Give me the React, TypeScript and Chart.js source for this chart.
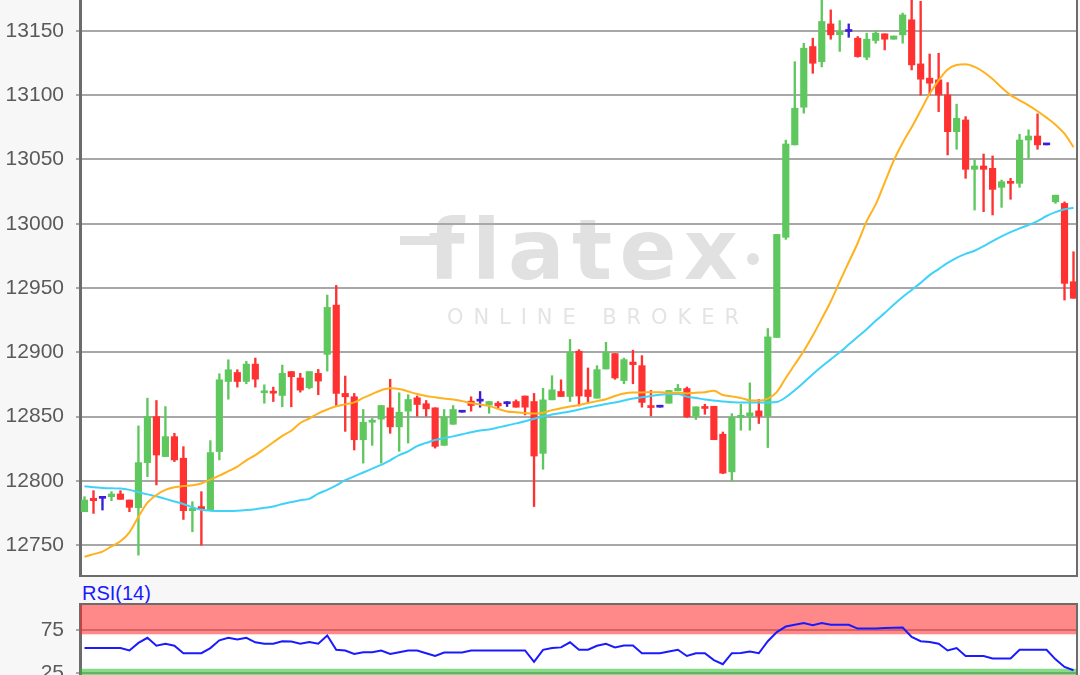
import React, { useEffect, useRef } from 'react';
import { Chart, registerables } from 'chart.js';

Chart.register(...registerables);

// ---- Data ----
const opens = [
  12776, 12786.4, 12786.4, 12787.7, 12789.8, 12785.1, 12779.1, 12814.2, 12850, 12818.9,
  12834.4, 12817.6, 12776.8, 12780, 12777.3, 12822.8, 12877.3, 12884.3, 12877.3, 12890.8,
  12868.5, 12869.5, 12866.4, 12885, 12880, 12872.4, 12883.6, 12898.4, 12936.7, 12868,
  12865.4, 12832, 12845.6, 12848, 12856.8, 12842, 12854.2, 12864.6, 12860, 12856.8,
  12827.6, 12844, 12853.4, 12862, 12862, 12859, 12860.4, 12860, 12861.7, 12866,
  12861.7, 12821.4, 12863, 12869.5, 12865.6, 12900.8, 12870.8, 12864.3, 12887, 12899,
  12878, 12892.4, 12889.6, 12858, 12857.3, 12860.4, 12870, 12871.8, 12850.3, 12857.6,
  12858, 12836.3, 12807, 12849.3, 12850.3, 12854.4, 12850.3, 12911.5, 12989.4, 13061.3,
  13090.6, 13137.8, 13126, 13155.4, 13147, 13149.5, 13144.3, 13129.5, 13142.5, 13147.7,
  13143.5, 13146.9, 13158.6, 13124.3, 13113.2, 13111.9, 13100.2, 13071.6, 13080.7, 13042.3,
  13044.9, 13043.1, 13028.3, 13032.7, 13031.4, 13065.1, 13068.2, 13061.3, 13017, 13015.8,
  12954.9,
];
const highs = [
  12787.7, 12792.4, 12787.7, 12791.6, 12792.4, 12785.1, 12842.7, 12864.3, 12862.5, 12857.8,
  12837, 12826.6, 12783.8, 12791.6, 12831.3, 12883.3, 12894.2, 12886.4, 12892.9, 12895.5,
  12874.7, 12872.9, 12890, 12885, 12883.6, 12885, 12886.7, 12944.5, 12952, 12881.5,
  12868, 12855.5, 12848.5, 12858.6, 12879, 12868.5, 12867, 12866, 12862.5, 12856.8,
  12855.5, 12858.6, 12853.4, 12865.4, 12869.5, 12861.7, 12861.7, 12861.7, 12863, 12866,
  12868, 12872, 12881.8, 12878.6, 12910, 12902, 12887.8, 12889.6, 12907.8, 12899,
  12895.5, 12901.6, 12897.4, 12870.3, 12857.3, 12870.3, 12875, 12873, 12857.6, 12859.6,
  12858, 12838, 12852.3, 12859.6, 12876.2, 12863.3, 12918.5, 12991.7, 13065, 13126,
  13140.4, 13144.3, 13185, 13166.3, 13158, 13155.4, 13145.6, 13148.2, 13150, 13147.7,
  13146, 13163.8, 13180, 13173, 13132, 13132.6, 13109.8, 13093, 13083.3, 13049.6,
  13054.2, 13052.7, 13034, 13035.3, 13069.6, 13073, 13085.4, 13061.3, 13022.2, 13017,
  12978.2,
];
const lows = [
  12776, 12774.7, 12777.3, 12784.6, 12785.6, 12776, 12742.2, 12803.3, 12796.8, 12818.9,
  12815, 12770, 12760.4, 12750, 12777.3, 12816.3, 12863.5, 12872.9, 12875.5, 12872.9,
  12860.4, 12861.7, 12857.6, 12857.6, 12869, 12871.6, 12867, 12885.4, 12858.6, 12838.5,
  12824, 12813.8, 12827.6, 12813.8, 12837, 12823, 12829.4, 12850.3, 12850.3, 12825.5,
  12827.6, 12844, 12853.4, 12854.2, 12857.3, 12852.6, 12856.8, 12857.8, 12857.3, 12851.3,
  12780, 12809, 12863, 12865.6, 12861.7, 12858.3, 12860.4, 12864.3, 12887, 12879,
  12875.5, 12875.5, 12857.3, 12850.5, 12857.3, 12860.4, 12870, 12849.3, 12847.7, 12851.8,
  12832, 12805.6, 12799.9, 12839.4, 12839.4, 12844.6, 12825.9, 12911.5, 12987.8, 13061.3,
  13086, 13117, 13122, 13143.5, 13134, 13145, 13129.5, 13127.5, 13140.4, 13135.2,
  13143.5, 13140.4, 13119.6, 13100, 13100, 13087.2, 13053.5, 13057.9, 13035.3, 13010.6,
  13009.4, 13006.8, 13012.7, 13019, 13028.3, 13050.9, 13057.9, 13061.3, 13015.8, 12940.6,
  12942,
];
const closes = [
  12785.1, 12784.6, 12786.4, 12789.8, 12785.6, 12779.4, 12814.2, 12850, 12820.1, 12834.4,
  12816.3, 12776.8, 12778.6, 12778, 12822, 12878.6, 12886.4, 12877.3, 12890.8, 12879.1,
  12869.2, 12868.2, 12883.6, 12881, 12870.6, 12885, 12877.6, 12934.9, 12868, 12865.4,
  12832, 12845.6, 12847.2, 12858.6, 12842, 12853.4, 12863.3, 12859.4, 12856, 12826.8,
  12849.5, 12855.5, 12853.4, 12858.6, 12862, 12861.7, 12858.3, 12860, 12857.3, 12857.3,
  12819.3, 12863, 12870.8, 12865.6, 12900, 12866, 12865.6, 12886.5, 12900, 12880,
  12894.3, 12890.4, 12861, 12857, 12857.3, 12870.3, 12872, 12849.8, 12857.6, 12856.3,
  12832, 12806, 12849.3, 12851, 12852.9, 12850.3, 12912, 12991.7, 13062, 13089.8,
  13136.5, 13124.8, 13157.3, 13146.9, 13149.5, 13149.5, 13130, 13143.5, 13148.2, 13143.5,
  13146, 13162.4, 13123.5, 13112.4, 13109.3, 13100.2, 13071.6, 13082, 13042.3, 13044.9,
  13042.3, 13026.7, 13032.7, 13031.4, 13065.1, 13068.2, 13061.3, 13061.3, 13022.2, 12953.6,
  12942,
];
const maFast = [
  12741, 12743, 12745, 12749, 12753, 12760, 12772, 12783, 12789, 12793,
  12795, 12796, 12796.5, 12798, 12801, 12804, 12807.5, 12811, 12816, 12820,
  12825, 12830, 12835, 12839, 12845, 12848.5, 12852.5, 12855.5, 12858, 12859.5,
  12861, 12864.5, 12867.5, 12870.5, 12872, 12871.5, 12869.5, 12867.5, 12866, 12865,
  12864, 12863.3, 12862, 12860.5, 12859.4, 12858.3, 12856, 12854, 12853.3, 12852.7,
  12852.3, 12853, 12855, 12856.5, 12857.8, 12859, 12860.5, 12862, 12863.5, 12866,
  12868, 12868.8, 12868.8, 12869, 12869, 12868.5, 12868.5, 12868, 12868.5, 12869,
  12870, 12866.8, 12865.7, 12864.5, 12862.7, 12862.5, 12864, 12869, 12880, 12890.5,
  12901, 12913, 12926, 12939.5, 12955, 12970, 12985, 13002, 13015, 13032,
  13049, 13063, 13075, 13088, 13101, 13111.5, 13120, 13123.5, 13124, 13122,
  13118, 13112.5, 13106, 13100, 13096, 13092, 13087.5, 13082.5, 13077, 13070,
  13059.5,
];
const maSlow = [
  12795.8, 12795, 12794.5, 12794.2, 12794, 12793, 12791.2, 12789.5, 12788, 12786,
  12784, 12782, 12779.5, 12777.5, 12776.8, 12776.6, 12776.6, 12776.8, 12777.3, 12778,
  12779, 12780, 12782, 12783.5, 12785, 12786, 12790, 12793, 12796.5, 12800.5,
  12803.5, 12806.5, 12809.5, 12812.5, 12816, 12820, 12823, 12827, 12829.5, 12831.8,
  12833.2, 12834.6, 12836.2, 12837.8, 12839.2, 12840, 12841.5, 12843, 12844.7, 12846.4,
  12848.3, 12850, 12851.6, 12852.8, 12854, 12855.5, 12857, 12858.4, 12859.8, 12861,
  12862.5, 12864, 12865, 12866, 12867, 12867.5, 12867.5, 12865.5, 12864.5, 12863.3,
  12862.5, 12861.7, 12861.2, 12860.9, 12860.9, 12860.9, 12861, 12861.4, 12865, 12870.5,
  12876.5, 12883, 12889, 12894.5, 12900, 12906, 12912, 12918, 12924.5, 12930.5,
  12937, 12943, 12948.5, 12954, 12960, 12964.7, 12969.5, 12973.5, 12976.5, 12979,
  12982.5, 12986.5, 12990.2, 12993.5, 12996.4, 12999, 13002, 13006, 13009, 13011.2,
  13012.5,
];
const rsi = [
  54, 54, 54, 54, 54, 51.2, 60, 65.9, 56.7, 59,
  56.7, 48, 48, 48, 54, 63, 65.9, 63.9, 65.9, 60.7,
  59, 59, 62, 61.5, 59, 61, 59, 68.6, 52, 51.2,
  47.2, 49.2, 49.2, 51.2, 47.2, 49.2, 51.2, 51.2, 48, 44.8,
  48.8, 48.8, 48.8, 51.2, 51.2, 51.2, 51.2, 51.2, 51.2, 51.2,
  38, 52, 54, 54.8, 60.7, 52, 52, 56.7, 59, 54.8,
  57, 57, 48, 48, 48, 50, 52, 44.8, 48, 48,
  40, 35.3, 48, 48.4, 50, 48, 61.9, 72.6, 79, 81,
  83, 80.6, 83, 81, 81, 81, 76.6, 76.6, 76.8, 77.2,
  77.5, 77.8, 67, 61.9, 61, 59, 51.2, 54, 44.8, 44.8,
  44.8, 42, 42, 42, 52, 52, 52, 52, 40.9, 32.1,
  28.2,
];
const categories = opens.map((_, i) => `#${i + 1}`);
const priceTicks = [12750, 12800, 12850, 12900, 12950, 13000, 13050, 13100, 13150];
const rsiGridTicks = [25, 50, 75, 100];
const rsiLabelTicks = [25, 75];
const overboughtLevel = 70;
const oversoldLevel = 30;

// ---- Styles ----
const GREEN = '#5ec85e';
const RED = '#ff3131';
const DOJI = '#3b1fd6';
const FONT = '"Liberation Sans", Arial, sans-serif';
const GRID = '#a8a8a8';
const FRAME = '#6c6c6c';

const candleColors = closes.map((c, i) => (c > opens[i] ? GREEN : c < opens[i] ? RED : DOJI));

function drawSpaced(ctx: CanvasRenderingContext2D, text: string, x0: number, x1: number, y: number) {
  const chars = Array.from(text);
  const widths = chars.map((c) => ctx.measureText(c).width);
  const total = widths.reduce((a, b) => a + b, 0);
  const gap = (x1 - x0 - total) / (chars.length - 1);
  let x = x0;
  chars.forEach((c, i) => {
    ctx.fillText(c, x, y);
    x += widths[i] + gap;
  });
}

const whiteAreaPlugin = {
  id: 'whiteArea',
  beforeDraw(chart: any) {
    const { ctx, chartArea } = chart;
    ctx.save();
    ctx.fillStyle = '#ffffff';
    ctx.fillRect(chartArea.left, chartArea.top, chartArea.right - chartArea.left, chartArea.bottom - chartArea.top);
    ctx.restore();
  },
};

const watermarkPlugin = {
  id: 'watermark',
  beforeDraw(chart: any) {
    const { ctx } = chart;
    ctx.save();
    ctx.fillStyle = '#e1e1e1';
    ctx.fillRect(400, 236, 44, 9);
    ctx.font = 'bold 84px "DejaVu Sans", sans-serif';
    ctx.textBaseline = 'alphabetic';
    ctx.textAlign = 'left';
    drawSpaced(ctx, 'flatex', 428, 738, 279);
    ctx.beginPath();
    ctx.arc(753, 259, 6, 0, Math.PI * 2);
    ctx.fill();
    ctx.fillStyle = '#e4e4e4';
    ctx.font = '21px "DejaVu Sans", sans-serif';
    drawSpaced(ctx, 'ONLINE BROKER', 447, 739, 324);
    ctx.restore();
  },
};

const makeFramePlugin = (sides: string[]) => ({
  id: 'frame',
  afterDatasetsDraw(chart: any) {
    const { ctx, chartArea } = chart;
    ctx.save();
    ctx.strokeStyle = FRAME;
    ctx.lineWidth = 2;
    ctx.beginPath();
    if (sides.includes('bottom')) {
      ctx.moveTo(chartArea.left, chartArea.bottom);
      ctx.lineTo(chartArea.right, chartArea.bottom);
    }
    if (sides.includes('top')) {
      ctx.moveTo(chartArea.left, chartArea.top);
      ctx.lineTo(chartArea.right, chartArea.top);
    }
    if (sides.includes('right')) {
      ctx.moveTo(chartArea.right - 1, chartArea.top);
      ctx.lineTo(chartArea.right - 1, chartArea.bottom);
    }
    ctx.stroke();
    ctx.restore();
  },
});

const bandsPlugin = {
  id: 'bands',
  beforeDatasetsDraw(chart: any) {
    const { ctx, chartArea } = chart;
    const y = chart.scales.y;
    const yTop = y.getPixelForValue(overboughtLevel);
    const yLow = y.getPixelForValue(oversoldLevel);
    ctx.save();
    ctx.fillStyle = 'rgba(255,40,40,0.55)';
    ctx.fillRect(chartArea.left, chartArea.top, chartArea.right - chartArea.left, yTop - chartArea.top);
    ctx.fillStyle = 'rgba(40,190,40,0.55)';
    ctx.fillRect(chartArea.left, yLow, chartArea.right - chartArea.left, chartArea.bottom - yLow);
    ctx.restore();
  },
};

const yAxisCommon = {
  position: 'left' as const,
  afterFit: (s: any) => {
    s.width = 80;
    s.paddingTop = 0;
    s.paddingBottom = 0;
  },
  ticks: {
    color: '#5a5a5a',
    font: { family: FONT, size: 21 },
    padding: 12,
    callback: (v: any) => String(v),
  },
  grid: { color: GRID, lineWidth: 2, tickLength: 4 },
  border: { color: FRAME, width: 3 },
};

export default function App() {
  const mainRef = useRef<HTMLCanvasElement>(null);
  const rsiRef = useRef<HTMLCanvasElement>(null);

  useEffect(() => {
    document.body.style.margin = '0';
    const main = new Chart(mainRef.current as HTMLCanvasElement, {
      type: 'bar',
      data: {
        labels: categories,
        datasets: [
          {
            type: 'line',
            label: 'MA fast',
            data: maFast,
            borderColor: '#ffb21e',
            borderWidth: 2,
            pointRadius: 0,
            cubicInterpolationMode: 'monotone',
            order: 0,
          } as any,
          {
            type: 'line',
            label: 'MA slow',
            data: maSlow,
            borderColor: '#3fd2f8',
            borderWidth: 2,
            pointRadius: 0,
            cubicInterpolationMode: 'monotone',
            order: 0,
          } as any,
          {
            type: 'bar',
            label: 'Body',
            data: opens.map((o, i) => [o, closes[i]]),
            backgroundColor: candleColors,
            barThickness: 6.5,
            minBarLength: 2,
            grouped: false,
            order: 1,
          } as any,
          {
            type: 'bar',
            label: 'Wick',
            data: lows.map((l, i) => [l, highs[i]]),
            backgroundColor: candleColors,
            barThickness: 1.7,
            grouped: false,
            order: 2,
          } as any,
        ],
      },
      options: {
        animation: false,
        responsive: false,
        maintainAspectRatio: false,
        layout: { padding: { left: 0, right: 2, top: 0, bottom: 2 } },
        plugins: { legend: { display: false }, tooltip: { enabled: false } },
        scales: {
          x: { display: false, offset: true },
          y: {
            ...yAxisCommon,
            min: 12726,
            max: 13174,
            afterBuildTicks: (s: any) => {
              s.ticks = priceTicks.map((v) => ({ value: v }));
            },
          } as any,
        },
      },
      plugins: [whiteAreaPlugin, watermarkPlugin, makeFramePlugin(['bottom', 'right'])],
    });

    const rsiChart = new Chart(rsiRef.current as HTMLCanvasElement, {
      type: 'line',
      data: {
        labels: categories,
        datasets: [
          {
            label: 'RSI(14)',
            data: rsi,
            borderColor: '#1a1aff',
            borderWidth: 2,
            pointRadius: 0,
            tension: 0,
          },
        ],
      },
      options: {
        animation: false,
        responsive: false,
        maintainAspectRatio: false,
        layout: { padding: { left: 0, right: 2, top: 4, bottom: 0 } },
        plugins: { legend: { display: false }, tooltip: { enabled: false } },
        scales: {
          x: { display: false, offset: true },
          y: {
            ...yAxisCommon,
            min: 22.7,
            max: 105.2,
            afterBuildTicks: (s: any) => {
              s.ticks = rsiGridTicks.map((v) => ({ value: v }));
            },
            ticks: {
              ...yAxisCommon.ticks,
              callback: (v: any) => (rsiLabelTicks.includes(Number(v)) ? String(v) : ''),
            },
          } as any,
        },
      },
      plugins: [whiteAreaPlugin, bandsPlugin, makeFramePlugin(['top', 'right'])],
    });

    return () => {
      main.destroy();
      rsiChart.destroy();
    };
  }, []);

  return (
    <div
      style={{
        position: 'fixed',
        left: 0,
        top: 0,
        width: 1080,
        height: 675,
        background: '#f7f7f7',
        overflow: 'hidden',
      }}
    >
      <canvas
        ref={mainRef}
        width={1080}
        height={578}
        style={{ position: 'absolute', left: 0, top: 0, width: 1080, height: 578 }}
      />
      <div
        style={{
          position: 'absolute',
          left: 82,
          top: 583,
          font: `20px ${FONT}`,
          lineHeight: '20px',
          color: '#1a1aff',
          whiteSpace: 'nowrap',
        }}
      >
        RSI(14)
      </div>
      <canvas
        ref={rsiRef}
        width={1080}
        height={75}
        style={{ position: 'absolute', left: 0, top: 600, width: 1080, height: 75 }}
      />
    </div>
  );
}
